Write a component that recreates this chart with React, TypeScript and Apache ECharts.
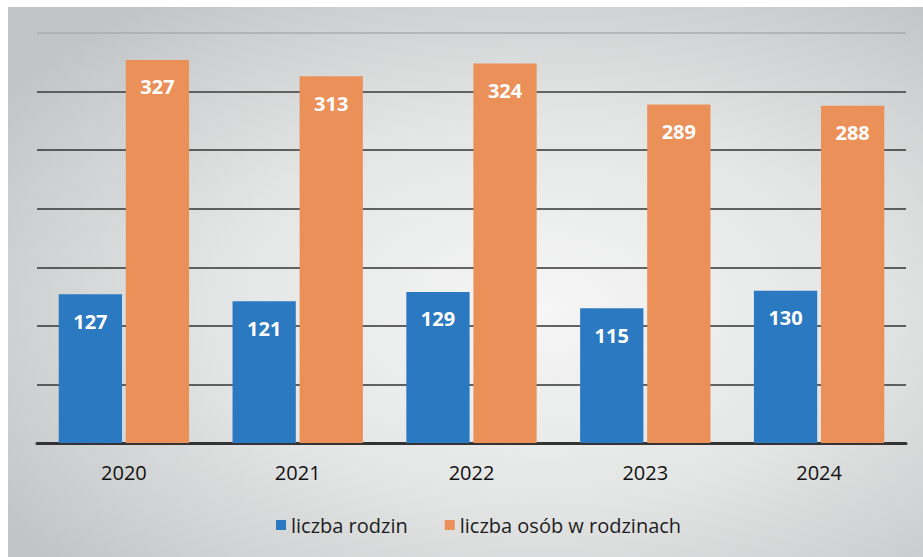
import React, { useEffect, useRef } from "react";
import * as echarts from "echarts";

const categories = ["2020", "2021", "2022", "2023", "2024"];
const families = [127, 121, 129, 115, 130];
const persons = [327, 313, 324, 289, 288];
const seriesNames = ["liczba rodzin", "liczba osób w rodzinach"];

export default function App() {
  const ref = useRef<HTMLDivElement>(null);
  useEffect(() => {
    document.body.style.margin = "0";
    const chart = echarts.init(ref.current!, null, { renderer: "svg" });
    const labelStyle = {
      show: true,
      position: "insideTop",
      distance: 17,
      color: "#ffffff",
      fontFamily: "Open Sans",
      fontWeight: "bold",
      fontSize: 20,
    };
    chart.setOption({
      animation: false,
      backgroundColor: "#ffffff",
      graphic: [
        {
          type: "rect",
          z: -10,
          silent: true,
          shape: { x: 8, y: 7, width: 915, height: 550 },
          style: {
            fill: new echarts.graphic.RadialGradient(0.58, 0.55, 0.7, [
              { offset: 0, color: "#f6f6f6" },
              { offset: 0.5, color: "#e4e5e5" },
              { offset: 1, color: "#c2c5c6" },
            ]),
          },
        },
      ],
      grid: { left: 37, right: 17, top: 33, bottom: 114, containLabel: false },
      legend: {
        left: 271,
        top: 510,
        icon: "rect",
        itemWidth: 10,
        itemHeight: 10,
        itemGap: 37,
        textStyle: { fontFamily: "Open Sans", fontSize: 20, color: "#1e1e1e" },
        data: seriesNames,
      },
      xAxis: {
        type: "category",
        data: categories,
        axisTick: { show: false },
        axisLine: { lineStyle: { color: "#333", width: 3 } },
        axisLabel: {
          margin: 19,
          fontFamily: "Open Sans",
          fontSize: 20,
          color: "#111",
        },
      },
      yAxis: {
        type: "value",
        min: 0,
        max: 350,
        interval: 50,
        axisLabel: { show: false },
        axisLine: { show: false },
        axisTick: { show: false },
        splitLine: {
          lineStyle: {
            width: 1.5,
            color: ["#333", "#333", "#333", "#333", "#333", "#333", "#3a3a3a", "#a9acad"],
          },
        },
      },
      series: [
        {
          name: seriesNames[0],
          type: "bar",
          data: families,
          barGap: "6%",
          barCategoryGap: "25%",
          itemStyle: { color: "#2b79c0" },
          label: labelStyle,
        },
        {
          name: seriesNames[1],
          type: "bar",
          data: persons,
          barGap: "6%",
          barCategoryGap: "25%",
          itemStyle: { color: "#eb9059" },
          label: labelStyle,
        },
      ],
    });
    return () => chart.dispose();
  }, []);
  return <div ref={ref} style={{ position: "absolute", left: 0, top: 0, width: 923, height: 557 }} />;
}
